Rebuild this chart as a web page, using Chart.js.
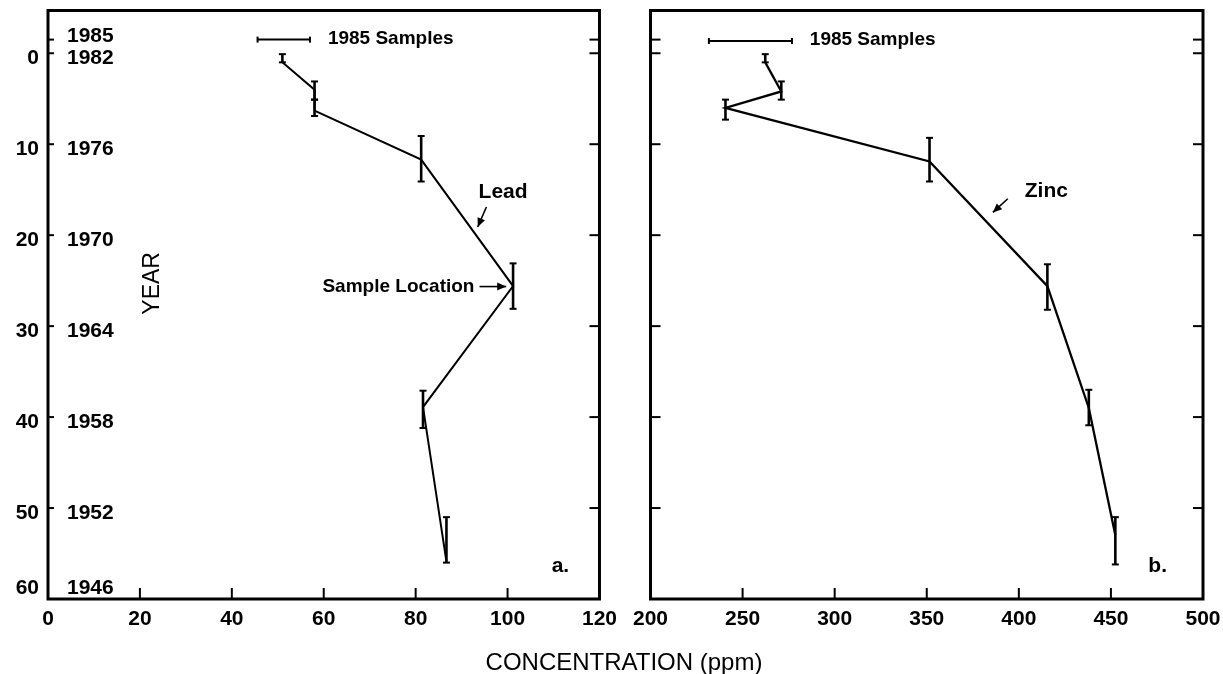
<!DOCTYPE html>
<html>
<head>
<meta charset="utf-8">
<title>Lead and zinc concentration with depth</title>
<script src="https://cdn.jsdelivr.net/npm/chart.js@4.4.1/dist/chart.umd.min.js"></script>
<style>
  html, body { margin: 0; padding: 0; background: #fff; }
  #wrap { position: relative; width: 1223px; height: 674px; overflow: hidden; }
  canvas { position: absolute; top: 0; }
  #cLead { left: 0; }
  #cZinc { left: 625px; }
  #xTitle {
    position: absolute; left: 0; width: 1248px; top: 648px;
    text-align: center; font: 24px "Liberation Sans", Arial, sans-serif; color: #000;
  }
</style>
</head>
<body>
<div id="wrap">
  <canvas id="cLead" width="625" height="674"></canvas>
  <canvas id="cZinc" width="608" height="674"></canvas>
  <div id="xTitle">CONCENTRATION (ppm)</div>
</div>
<script>
// Depth axis (cm) and the dated years that go with each depth tick
const depthTicks = [0, 10, 20, 30, 40, 50, 60];
const yearLabels = ['1982', '1976', '1970', '1964', '1958', '1952', '1946'];
const samplingYear = '1985';
const samplingDepth = -1.5;

// Concentration axis ticks (ppm)
const leadTicks = [0, 20, 40, 60, 80, 100, 120];
const zincTicks = [200, 250, 300, 350, 400, 450, 500];

// Lead profile: concentration, depth of the point, and depth span of each section
const leadConc   = [51.0, 58.0, 58.0, 81.2, 101.2, 81.6, 86.7];
const leadDepth  = [1.0, 4.0, 6.3, 11.7, 25.6, 38.9, 55.9];
const leadTop    = [0.1, 3.1, 5.1, 9.1, 23.1, 37.1, 51.0];
const leadBottom = [1.0, 5.1, 6.9, 14.1, 28.1, 41.2, 56.0];

// Zinc profile
const zincConc   = [262.3, 271.0, 240.7, 351.5, 415.5, 438.0, 452.4];
const zincDepth  = [1.0, 4.2, 6.0, 11.9, 25.6, 39.0, 53.0];
const zincTop    = [0.1, 3.1, 5.1, 9.3, 23.2, 37.0, 51.0];
const zincBottom = [1.0, 5.1, 7.3, 14.1, 28.2, 40.9, 56.2];

// Range of the 1985 surface samples
const lead1985Range = [45.6, 57.0];
const zinc1985Range = [231.7, 276.8];

const FONT = '"Liberation Sans", Arial, Helvetica, sans-serif';
const DEPTH_MIN = -4.7, DEPTH_MAX = 60;

function seg(ctx, x1, y1, x2, y2) {
  ctx.beginPath(); ctx.moveTo(x1, y1); ctx.lineTo(x2, y2); ctx.stroke();
}

function arrow(ctx, x1, y1, x2, y2) {
  seg(ctx, x1, y1, x2, y2);
  const ang = Math.atan2(y2 - y1, x2 - x1), L = 9, W = 4;
  ctx.beginPath();
  ctx.moveTo(x2, y2);
  ctx.lineTo(x2 - L * Math.cos(ang) + W * Math.sin(ang), y2 - L * Math.sin(ang) - W * Math.cos(ang));
  ctx.lineTo(x2 - L * Math.cos(ang) - W * Math.sin(ang), y2 - L * Math.sin(ang) + W * Math.cos(ang));
  ctx.closePath(); ctx.fill();
}

// Frame, inward ticks, section bars, sample range and annotations
function panelPlugin(cfg) {
  return {
    id: 'panelDecor',
    afterDatasetsDraw(chart) {
      const { ctx, chartArea: a, scales: { x, y } } = chart;
      ctx.save();
      ctx.strokeStyle = '#000'; ctx.fillStyle = '#000';
      ctx.lineCap = 'butt';

      // section depth bars
      ctx.lineWidth = 2.6;
      cfg.conc.forEach((c, i) => {
        const px = x.getPixelForValue(c);
        const t = y.getPixelForValue(cfg.top[i]);
        const b = y.getPixelForValue(cfg.bottom[i]);
        seg(ctx, px, t, px, b);
        ctx.lineWidth = 2;
        seg(ctx, px - 3.5, t, px + 3.5, t);
        seg(ctx, px - 3.5, b, px + 3.5, b);
        ctx.lineWidth = 2.6;
      });

      // 1985 samples range
      const sy = y.getPixelForValue(cfg.sampleDepth);
      const s1 = x.getPixelForValue(cfg.sampleRange[0]);
      const s2 = x.getPixelForValue(cfg.sampleRange[1]);
      ctx.lineWidth = 2;
      seg(ctx, s1, sy, s2, sy);
      seg(ctx, s1, sy - 3, s1, sy + 3);
      seg(ctx, s2, sy - 3, s2, sy + 3);
      ctx.font = 'bold 19px ' + FONT;
      ctx.textBaseline = 'middle'; ctx.textAlign = 'left';
      ctx.fillText('1985 Samples', x.getPixelForValue(cfg.sampleText), sy - 1);

      // frame
      ctx.lineWidth = 3;
      ctx.strokeRect(a.left, a.top, a.right - a.left, a.bottom - a.top);

      // inward ticks on the depth axis (both sides)
      ctx.lineWidth = 2;
      [samplingDepth].concat(depthTicks).forEach(v => {
        if (v <= DEPTH_MIN || v >= DEPTH_MAX) return;
        const py = y.getPixelForValue(v);
        seg(ctx, a.left, py, a.left + cfg.leftTick, py);
        seg(ctx, a.right - 10, py, a.right, py);
      });
      // inward ticks on the concentration axis
      x.ticks.forEach(t => {
        if (t.value <= x.min || t.value >= x.max) return;
        const px = x.getPixelForValue(t.value);
        seg(ctx, px, a.bottom, px, a.bottom - 11);
      });

      // depth and year labels
      if (cfg.depthLabels) {
        ctx.font = 'bold 21px ' + FONT;
        depthTicks.forEach((v, i) => {
          const py = Math.min(y.getPixelForValue(v) + 5, a.bottom - 11);
          ctx.textAlign = 'right';
          ctx.fillText(String(v), a.left - 9, py);
          ctx.textAlign = 'left';
          ctx.fillText(yearLabels[i], a.left + 19, py);
        });
        ctx.textAlign = 'left';
        ctx.fillText(samplingYear, a.left + 19, y.getPixelForValue(samplingDepth) - 3);

        // YEAR title
        ctx.save();
        ctx.translate(x.getPixelForValue(cfg.yearTitle[0]), y.getPixelForValue(cfg.yearTitle[1]));
        ctx.rotate(-Math.PI / 2);
        ctx.font = '23px ' + FONT;
        ctx.textAlign = 'center';
        ctx.fillText('YEAR', 0, 0);
        ctx.restore();
      }

      // annotations
      cfg.notes.forEach(n => {
        ctx.font = n.font + ' ' + FONT;
        ctx.textAlign = n.align || 'left';
        ctx.fillText(n.text, x.getPixelForValue(n.x), y.getPixelForValue(n.y));
      });
      ctx.lineWidth = 1.6;
      cfg.arrows.forEach(r => {
        arrow(ctx, x.getPixelForValue(r[0]), y.getPixelForValue(r[1]),
                   x.getPixelForValue(r[2]), y.getPixelForValue(r[3]));
      });
      ctx.restore();
    }
  };
}

function makeChart(id, conc, depth, ticks, padding, cfg) {
  const pts = conc.map((c, i) => ({ x: c, y: depth[i] }));
  return new Chart(document.getElementById(id), {
    type: 'scatter',
    data: {
      datasets: [{
        data: pts,
        showLine: true,
        borderColor: '#000',
        borderWidth: cfg.lineWidth,
        pointRadius: 0,
        tension: 0
      }]
    },
    options: {
      responsive: false,
      animation: false,
      events: [],
      layout: { padding: padding },
      plugins: { legend: { display: false }, tooltip: { enabled: false } },
      scales: {
        x: {
          type: 'linear',
          min: ticks[0], max: ticks[ticks.length - 1],
          afterBuildTicks: s => { s.ticks = ticks.map(v => ({ value: v })); },
          afterFit: s => { s.height = 75; },
          grid: { display: false, drawTicks: false },
          border: { display: false },
          ticks: {
            autoSkip: false, maxRotation: 0, padding: 8,
            color: '#000',
            font: { family: FONT, size: 21, weight: 'bold' }
          }
        },
        y: {
          type: 'linear',
          reverse: true,
          min: DEPTH_MIN, max: DEPTH_MAX,
          display: false
        }
      }
    },
    plugins: [panelPlugin(cfg)]
  });
}

makeChart('cLead', leadConc, leadDepth, leadTicks,
  { left: 48, right: 25, top: 10.5, bottom: 0 },
  {
    conc: leadConc, top: leadTop, bottom: leadBottom, lineWidth: 2,
    sampleDepth: samplingDepth, sampleRange: lead1985Range, sampleText: 60.9,
    leftTick: 6, depthLabels: true, yearTitle: [22.8, 25.3],
    notes: [
      { text: 'Lead', x: 93.7, y: 15.3, font: 'bold 21px' },
      { text: 'Sample Location', x: 92.8, y: 25.7, font: 'bold 19px', align: 'right' },
      { text: 'a.', x: 109.6, y: 56.4, font: 'bold 21px' }
    ],
    arrows: [[95.4, 16.9, 93.5, 19.1], [93.9, 25.65, 99.7, 25.65]]
  });

makeChart('cZinc', zincConc, zincDepth, zincTicks,
  { left: 24, right: 30, top: 10.5, bottom: 0 },
  {
    conc: zincConc, top: zincTop, bottom: zincBottom, lineWidth: 2.3,
    sampleDepth: -1.35, sampleRange: zinc1985Range, sampleText: 286.5,
    leftTick: 10, depthLabels: false,
    notes: [
      { text: 'Zinc', x: 403.2, y: 15.2, font: 'bold 21px' },
      { text: 'b.', x: 470.3, y: 56.4, font: 'bold 21px' }
    ],
    arrows: [[394.0, 16.0, 385.9, 17.5]]
  });
</script>
</body>
</html>
